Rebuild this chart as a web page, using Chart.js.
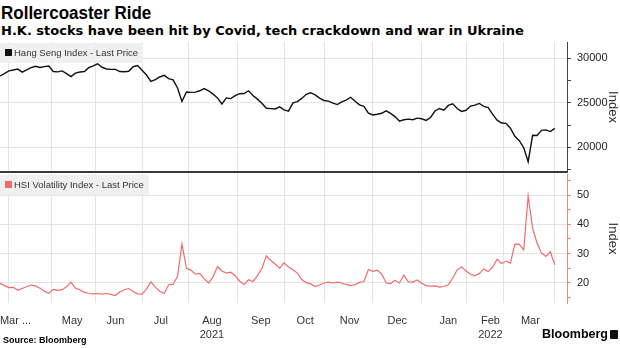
<!DOCTYPE html>
<html>
<head>
<meta charset="utf-8">
<script src="https://cdn.jsdelivr.net/npm/chart.js@4.4.1/dist/chart.umd.min.js"></script>
<style>
  html, body { margin: 0; padding: 0; background: #fff; }
  #wrap { position: relative; width: 620px; height: 348px; overflow: hidden; }
  #titulo { position: absolute; left: 1px; top: 3px; font: bold 17px/21px "Liberation Sans", Arial, sans-serif; color: #000; white-space: nowrap; transform: scaleY(1.06); transform-origin: left bottom; }
  #subtitulo { position: absolute; left: 1px; top: 23px; font: bold 13px/16px "DejaVu Sans", sans-serif; color: #000; white-space: nowrap; }
  #div_topo { position: absolute; left: 0; top: 42px; width: 620px; height: 133px; }
  #div_baixo { position: absolute; left: 0; top: 174px; width: 620px; height: 164px; }
  #fonte { position: absolute; left: 3px; top: 334px; font: bold 9px/12px "Liberation Sans", Arial, sans-serif; color: #000; }
  #logo { position: absolute; left: 542px; top: 327px; font: bold 12.5px/14px "Liberation Sans", Arial, sans-serif; color: #000; white-space: nowrap; }
  #logo span { display: inline-block; width: 8px; height: 9px; background: #111; border-radius: 1px; margin-left: 2px; vertical-align: -1px; }
</style>
</head>
<body>
<div id="wrap">
  <div id="titulo">Rollercoaster Ride</div>
  <div id="subtitulo">H.K. stocks have been hit by Covid, tech crackdown and war in Ukraine</div>
  <div id="div_topo"><canvas id="graficoHsi"></canvas></div>
  <div id="div_baixo"><canvas id="graficoVhsi"></canvas></div>
  <div id="fonte">Source: Bloomberg</div>
  <div id="logo">Bloomberg<span></span></div>
</div>
<script>
// eixo x em dias de pregao (0 = 26/03/2021), um valor a cada 2 pregoes
const passoDias = 2;
const xMax = 255.5;

const inicioMeses = [4, 23, 43, 64, 85, 107, 128, 146, 168, 190, 210, 227, 250];
const posRotulos = [7, 32.5, 52, 72.5, 95.5, 117.5, 137.5, 157.5, 179, 202, 221, 239];
const rotulosMeses = ['Mar ...', 'May', 'Jun', 'Jul', ['Aug', '2021'], 'Sep', 'Oct', 'Nov', 'Dec', 'Jan', ['Feb', '2022'], 'Mar'];

const hsiFaixa = [17225, 31830];
const hsiTicks = [17500, 20000, 22500, 25000, 27500, 30000];
const hsiRotulos = [20000, 25000, 30000];

const vhsiFaixa = [13.05, 57.2];
const vhsiTicks = [15, 20, 25, 30, 35, 40, 45, 50, 55];
const vhsiRotulos = [20, 30, 40, 50];

const hsiValores = [
  28010, 28280, 28580, 28690, 28790, 28450, 28700, 28960, 29100, 28970,
  29060, 29140, 28520, 28470, 28580, 28280, 27940, 28330, 28460, 28510,
  28940, 29140, 29380, 28990, 28800, 28760, 28760, 28510, 28490, 28540,
  29050, 29190, 28650, 28120, 27400, 27600, 27900, 28080, 27720, 27580,
  26660, 25150, 26210, 26170, 26200, 26350, 26590, 26350, 25980, 25550,
  24870, 25550, 25470, 25800, 26020, 26040, 26350, 25820, 25410, 24940,
  24380, 24350, 24310, 24550, 24210, 24070, 24990, 25140, 25490, 25950,
  26130, 25890, 25530, 25260, 25190, 24970, 24800, 25110, 25300, 25620,
  25180, 24770, 24610, 23840, 23630, 23710, 23820, 24090, 23810, 23450,
  22930, 23090, 23170, 23100, 23280, 23210, 23020, 23350, 24080, 24360,
  24170, 24700, 24880, 24360, 24030, 24160, 24630, 24730, 24930, 24590,
  24460, 23700, 23050, 22730, 22690, 22140, 21230, 20750, 19950, 18380,
  21350, 21330, 21900, 21960, 21770, 22130
];

const vhsiValores = [
  19.8, 19.0, 18.3, 18.4, 17.4, 18.0, 18.6, 19.2, 18.9, 18.1,
  17.1, 16.4, 17.7, 17.4, 17.6, 18.6, 20.2, 18.1, 17.6, 16.7,
  16.3, 16.2, 16.3, 16.1, 16.3, 16.0, 15.6, 16.8, 17.6, 18.0,
  17.0, 16.2, 16.1, 17.8, 20.3, 18.5, 17.1, 16.3, 19.3, 19.4,
  22.2, 33.3, 24.9, 24.3, 22.9, 23.2, 21.4, 19.9, 22.0, 25.5,
  24.0, 23.3, 23.6, 22.4, 20.5, 19.4, 21.0, 20.4, 22.4, 24.8,
  29.2, 27.6, 26.4, 25.0, 26.8, 25.4, 24.4, 23.3, 21.1, 20.0,
  19.6, 18.7, 19.2, 19.9, 20.2, 19.9, 20.2, 19.9, 19.4, 19.0,
  19.3, 20.1, 20.4, 24.5, 23.9, 24.3, 23.0, 19.9, 19.7, 20.8,
  19.9, 22.6, 20.3, 20.2, 20.9, 19.8, 19.0, 18.8, 18.9, 18.5,
  18.7, 19.3, 21.5, 24.4, 25.4, 24.0, 22.9, 22.4, 23.1, 24.7,
  23.8, 25.3, 28.0, 26.6, 27.4, 26.7, 33.2, 33.1, 31.2, 49.7,
  38.7, 33.6, 30.2, 29.0, 30.6, 26.1
];

const fonteEixo = 'Liberation Sans';
const corGrade = '#e4e4e4';

function pontos(valores) {
  return valores.map((v, i) => ({ x: i * passoDias, y: v }));
}

// caixa cinza com o nome da serie no canto do painel
const legendaPainel = {
  id: 'legendaPainel',
  afterDatasetsDraw(chart) {
    const ctx = chart.ctx;
    const ds = chart.data.datasets[0];
    const area = chart.chartArea;
    ctx.save();
    ctx.font = `9.5px "${fonteEixo}"`;
    const largura = ctx.measureText(ds.label).width;
    ctx.fillStyle = '#f0f0f0';
    ctx.fillRect(area.left, area.top + 1, largura + 19, 20);
    ctx.fillStyle = ds.borderColor;
    ctx.fillRect(area.left + 5, area.top + 7, 7, 7);
    ctx.fillStyle = '#333';
    ctx.textBaseline = 'middle';
    ctx.fillText(ds.label, area.left + 14, area.top + 11);
    ctx.restore();
  }
};

function eixoY(faixa, ticks, rotulos, corEixo) {
  return {
    position: 'right',
    min: faixa[0],
    max: faixa[1],
    afterBuildTicks: s => { s.ticks = ticks.map(v => ({ value: v })); },
    afterFit: s => { s.width = 53; s.paddingTop = 0; s.paddingBottom = 0; },
    ticks: {
      autoSkip: false,
      callback: v => rotulos.includes(v) ? String(v) : '',
      color: '#222',
      padding: 6,
      font: { family: fonteEixo, size: 11 }
    },
    grid: {
      color: c => (c.tick && rotulos.includes(c.tick.value)) ? corGrade : 'rgba(0,0,0,0)',
      tickColor: corEixo,
      tickLength: 4
    },
    border: { color: corEixo, width: 1 },
    title: {
      display: true,
      text: 'Index',
      color: '#333',
      padding: { top: 0, bottom: 0 },
      font: { family: fonteEixo, size: 13 }
    }
  };
}

function construirGraficoHsi() {
  new Chart(document.getElementById('graficoHsi'), {
    type: 'line',
    data: {
      datasets: [{
        label: 'Hang Seng Index - Last Price',
        data: pontos(hsiValores),
        borderColor: '#111',
        borderWidth: 1.4,
        pointRadius: 0,
        tension: 0
      }]
    },
    options: {
      responsive: true,
      maintainAspectRatio: false,
      animation: false,
      layout: { padding: 0 },
      plugins: { legend: { display: false }, tooltip: { enabled: false } },
      scales: {
        x: {
          type: 'linear',
          min: 0,
          max: xMax,
          afterBuildTicks: s => { s.ticks = inicioMeses.map(v => ({ value: v })); },
          afterFit: s => { s.height = 3; s.paddingLeft = 0; s.paddingRight = 0; },
          ticks: { display: false },
          grid: { color: corGrade, drawTicks: false },
          border: { color: '#3a3a3a', width: 2 }
        },
        y: eixoY(hsiFaixa, hsiTicks, hsiRotulos, '#444')
      }
    },
    plugins: [legendaPainel]
  });
}

function construirGraficoVhsi() {
  new Chart(document.getElementById('graficoVhsi'), {
    type: 'line',
    data: {
      datasets: [{
        label: 'HSI Volatility Index - Last Price',
        data: pontos(vhsiValores),
        borderColor: '#f26b6b',
        borderWidth: 1.2,
        pointRadius: 0,
        tension: 0
      }]
    },
    options: {
      responsive: true,
      maintainAspectRatio: false,
      animation: false,
      layout: { padding: 0 },
      plugins: { legend: { display: false }, tooltip: { enabled: false } },
      scales: {
        x: {
          type: 'linear',
          min: 0,
          max: xMax,
          afterBuildTicks: s => { s.ticks = posRotulos.map(v => ({ value: v })); },
          afterFit: s => { s.height = 35; s.paddingLeft = 0; s.paddingRight = 0; },
          ticks: {
            autoSkip: false,
            maxRotation: 0,
            padding: 3,
            color: '#333',
            font: { family: fonteEixo, size: 11, lineHeight: 1.25 },
            callback: (v, i) => rotulosMeses[i]
          },
          grid: { display: false },
          border: { display: false }
        },
        xg: {
          type: 'linear',
          axis: 'x',
          position: 'bottom',
          min: 0,
          max: xMax,
          afterBuildTicks: s => { s.ticks = inicioMeses.map(v => ({ value: v })); },
          afterFit: s => { s.height = 0; s.paddingLeft = 0; s.paddingRight = 0; },
          ticks: { display: false },
          grid: { color: corGrade, drawTicks: false },
          border: { display: false }
        },
        y: eixoY(vhsiFaixa, vhsiTicks, vhsiRotulos, '#f4807f')
      }
    },
    plugins: [legendaPainel]
  });
}

construirGraficoHsi();
construirGraficoVhsi();
</script>
</body>
</html>
